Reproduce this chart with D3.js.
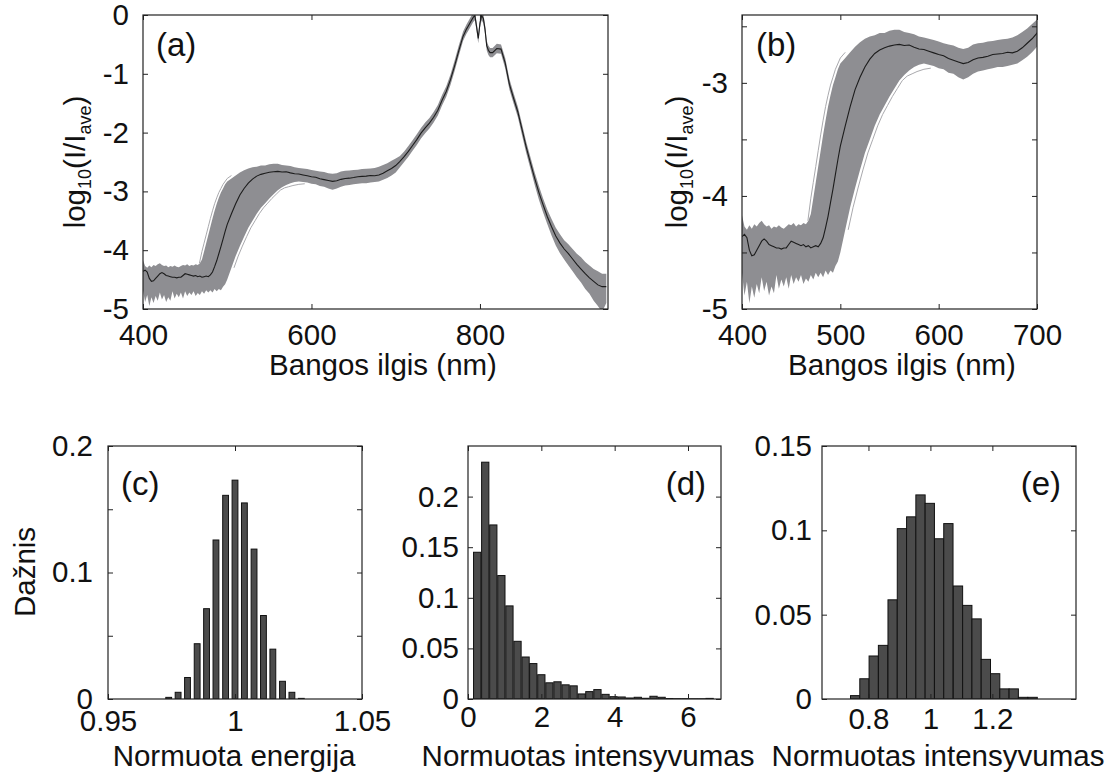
<!DOCTYPE html>
<html>
<head>
<script src="https://d3js.org/d3.v7.min.js"></script>
<style>
  body { margin: 0; background: #fff; }
  text { font-family: "Liberation Sans", Arial, sans-serif; }
</style>
</head>
<body>
<svg id="canvas" width="1120" height="776"></svg>
<script>
// ---- spectra (a), (b): wavelength, mean, band upper / lower edge ----
const wl = [400,402.5,405,407.5,410,412.5,415,417.5,420,422.5,425,427.5,430,432.5,435,437.5,440,442.5,445,447.5,450,452.5,455,457.5,460,462.5,465,467.5,470,472.5,475,477.5,480,482.5,485,487.5,490,492.5,495,497.5,500,
  505,510,515,520,525,530,535,540,545,550,555,560,565,570,575,580,585,590,595,600,605,610,615,620,625,630,635,640,645,650,655,660,665,670,675,680,685,690,695,700,705,710,715,720,725,730,735,740,745,750,755,760,765,770,775,780,
  782,784,786,788,790,792,794,796,798,800,802,804,806,808,810,812,
  815,820,825,830,835,840,845,850,855,860,865,870,875,880,885,890,895,900,905,910,915,920,925,930,935,940,945,950];

const meanSpec = [-4.36,-4.34,-4.37,-4.48,-4.53,-4.52,-4.48,-4.44,-4.40,-4.38,-4.40,-4.43,-4.44,-4.45,-4.46,-4.46,-4.47,-4.46,-4.46,-4.43,-4.40,-4.41,-4.42,-4.43,-4.44,-4.43,-4.45,-4.44,-4.46,-4.45,-4.44,-4.45,-4.42,-4.37,-4.28,-4.18,-4.06,-3.94,-3.81,-3.68,-3.56,
  -3.38,-3.21,-3.06,-2.95,-2.86,-2.79,-2.74,-2.71,-2.69,-2.675,-2.665,-2.66,-2.67,-2.665,-2.685,-2.70,-2.705,-2.72,-2.735,-2.75,-2.76,-2.785,-2.80,-2.815,-2.83,-2.82,-2.795,-2.78,-2.775,-2.765,-2.75,-2.745,-2.74,-2.73,-2.735,-2.72,-2.69,-2.65,-2.61,-2.56,-2.49,-2.41,-2.32,-2.22,-2.12,-2.01,-1.92,-1.84,-1.74,-1.62,-1.45,-1.30,-1.10,-0.86,-0.60,-0.36,
  -0.30,-0.24,-0.19,-0.14,-0.09,-0.04,-0.01,-0.20,-0.40,-0.14,-0.01,-0.06,-0.24,-0.52,-0.60,-0.64,
  -0.64,-0.57,-0.58,-0.82,-1.18,-1.42,-1.65,-1.95,-2.25,-2.52,-2.78,-3.02,-3.23,-3.43,-3.60,-3.76,-3.88,-3.98,-4.06,-4.15,-4.24,-4.32,-4.40,-4.47,-4.53,-4.59,-4.62,-4.62];

const hiSpec = [-4.17,-4.27,-4.30,-4.26,-4.29,-4.25,-4.27,-4.24,-4.22,-4.25,-4.27,-4.26,-4.29,-4.27,-4.28,-4.26,-4.28,-4.29,-4.27,-4.25,-4.26,-4.24,-4.27,-4.25,-4.26,-4.24,-4.25,-4.22,-4.16,-4.02,-3.88,-3.74,-3.60,-3.46,-3.33,-3.21,-3.11,-3.02,-2.95,-2.88,-2.83,
  -2.78,-2.73,-2.68,-2.64,-2.61,-2.59,-2.58,-2.56,-2.56,-2.54,-2.53,-2.53,-2.55,-2.56,-2.57,-2.59,-2.60,-2.61,-2.62,-2.635,-2.65,-2.66,-2.67,-2.69,-2.70,-2.69,-2.66,-2.65,-2.645,-2.635,-2.63,-2.62,-2.615,-2.61,-2.60,-2.58,-2.55,-2.52,-2.48,-2.44,-2.40,-2.32,-2.23,-2.13,-2.03,-1.92,-1.83,-1.75,-1.65,-1.53,-1.36,-1.21,-1.01,-0.77,-0.51,-0.28,
  -0.22,-0.16,-0.11,-0.06,-0.01,0.03,0.05,-0.12,-0.32,-0.06,0.05,0.02,-0.16,-0.44,-0.52,-0.56,
  -0.56,-0.49,-0.50,-0.73,-1.09,-1.33,-1.56,-1.86,-2.16,-2.42,-2.68,-2.91,-3.12,-3.31,-3.47,-3.62,-3.73,-3.83,-3.90,-3.98,-4.06,-4.12,-4.20,-4.26,-4.32,-4.36,-4.40,-4.40];

const loSpec = [-4.68,-4.88,-4.76,-4.95,-4.80,-4.90,-4.78,-4.86,-4.72,-4.84,-4.76,-4.88,-4.80,-4.86,-4.70,-4.82,-4.74,-4.80,-4.72,-4.82,-4.70,-4.78,-4.72,-4.76,-4.70,-4.78,-4.73,-4.76,-4.70,-4.74,-4.68,-4.72,-4.68,-4.72,-4.66,-4.70,-4.66,-4.68,-4.62,-4.58,-4.50,
  -4.30,-4.10,-3.93,-3.77,-3.62,-3.50,-3.38,-3.28,-3.20,-3.12,-3.05,-2.98,-2.93,-2.89,-2.86,-2.84,-2.83,-2.84,-2.85,-2.87,-2.88,-2.91,-2.92,-2.95,-2.97,-2.95,-2.92,-2.90,-2.89,-2.88,-2.87,-2.86,-2.86,-2.85,-2.84,-2.83,-2.80,-2.77,-2.73,-2.68,-2.59,-2.50,-2.41,-2.31,-2.21,-2.10,-2.01,-1.93,-1.83,-1.71,-1.54,-1.39,-1.19,-0.95,-0.69,-0.44,
  -0.38,-0.32,-0.27,-0.22,-0.17,-0.12,-0.09,-0.28,-0.48,-0.22,-0.09,-0.14,-0.32,-0.60,-0.68,-0.72,
  -0.72,-0.65,-0.66,-0.91,-1.27,-1.51,-1.74,-2.05,-2.35,-2.62,-2.89,-3.14,-3.36,-3.56,-3.75,-3.92,-4.05,-4.16,-4.26,-4.36,-4.46,-4.55,-4.66,-4.74,-4.86,-4.95,-5.05,-4.90];

// extreme single spectra just outside the band on the rising edge
const outerHiWl  = [467,470,472.5,475,477.5,480,482.5,485,487.5,490,492.5,495,500,505];
const outerHiVal = [-4.22,-4.02,-3.88,-3.74,-3.60,-3.46,-3.33,-3.21,-3.11,-3.02,-2.95,-2.88,-2.78,-2.73];
const outerLoWl  = [508,513,518,523,528,533,538,543,548,553,558,563,568,573,578,585,592];
const outerLoVal = [-4.30,-4.10,-3.93,-3.77,-3.62,-3.50,-3.38,-3.28,-3.20,-3.12,-3.05,-2.98,-2.94,-2.92,-2.90,-2.88,-2.87];

// ---- histograms (c), (d), (e): bin centers and frequencies ----
const energyBins = [0.9739,0.9776,0.9813,0.9851,0.9888,0.9925,0.9963,1.0000,1.0037,1.0075,1.0112,1.0149,1.0187,1.0224,1.0261];
const energyFreq = [0.0013,0.0053,0.017,0.0437,0.0714,0.1257,0.161,0.173,0.155,0.1185,0.066,0.0394,0.014,0.0053,0.0005];

const intensBins = [0.25,0.47,0.69,0.91,1.13,1.35,1.57,1.78,2.00,2.22,2.44,2.66,2.88,3.10,3.31,3.53,3.75,3.97,4.19,4.41,4.63,4.84,5.06,5.28,5.50,5.72,5.94,6.16,6.38,6.59];
const intensFreq = [0.145,0.234,0.172,0.122,0.092,0.057,0.0415,0.035,0.024,0.016,0.017,0.014,0.013,0.005,0.0073,0.0093,0.0046,0.0023,0.002,0.001,0.0017,0.0007,0.0027,0.0017,0.0005,0.0003,0.0003,0.0002,0.0002,0.0006];

const intens2Bins = [0.757,0.787,0.817,0.847,0.878,0.908,0.938,0.968,0.998,1.028,1.058,1.089,1.119,1.149,1.179,1.209,1.239,1.269,1.299,1.330];
const intens2Freq = [0.002,0.012,0.0255,0.0318,0.0588,0.101,0.108,0.121,0.116,0.095,0.104,0.067,0.0555,0.0475,0.0235,0.015,0.006,0.006,0.001,0.001];

const svg = d3.select("#canvas");
const FONT = 29.5;

// axes box with inward ticks on all four sides, MATLAB style
function makePanel(p) {
  const x = d3.scaleLinear().domain(p.xDomain).range([p.left, p.right]);
  const y = d3.scaleLinear().domain(p.yDomain).range([p.bottom, p.top]);
  const g = svg.append("g");

  svg.append("clipPath").attr("id", "clip-" + p.id)
    .append("rect")
    .attr("x", p.left).attr("y", p.top)
    .attr("width", p.right - p.left).attr("height", p.bottom - p.top);
  const plot = g.append("g").attr("clip-path", `url(#clip-${p.id})`);

  const fmt = d => String(d);
  const yFmt = p.yLabelOk ? (d => p.yLabelOk(d) ? String(d) : "") : fmt;

  const axes = [
    g.append("g").attr("transform", `translate(0,${p.bottom})`)
      .call(d3.axisBottom(x).tickValues(p.xTicks).tickSize(-5).tickSizeOuter(0).tickPadding(p.xPad).tickFormat(fmt)),
    g.append("g").attr("transform", `translate(0,${p.top})`)
      .call(d3.axisTop(x).tickValues(p.xTicks).tickSize(-5).tickSizeOuter(0).tickFormat(() => "")),
    g.append("g").attr("transform", `translate(${p.left},0)`)
      .call(d3.axisLeft(y).tickValues(p.yTicks).tickSize(-5).tickSizeOuter(0).tickPadding(p.yPad).tickFormat(yFmt)),
    g.append("g").attr("transform", `translate(${p.right},0)`)
      .call(d3.axisRight(y).tickValues(p.yTicks).tickSize(-5).tickSizeOuter(0).tickFormat(() => ""))
  ];
  axes.forEach(a => {
    a.select(".domain").remove();
    a.attr("font-size", FONT).attr("font-family", "Liberation Sans, Arial, sans-serif").attr("color", "#111");
    a.selectAll(".tick line").attr("stroke", "#222");
  });

  g.append("rect")
    .attr("x", p.left).attr("y", p.top)
    .attr("width", p.right - p.left).attr("height", p.bottom - p.top)
    .attr("fill", "none").attr("stroke", "#222").attr("stroke-width", 1.2);

  return { g, plot, x, y };
}

function drawSpectrum(P) {
  const band = d3.area()
    .x((d, i) => P.x(wl[i]))
    .y0((d, i) => P.y(loSpec[i]))
    .y1((d, i) => P.y(hiSpec[i]));
  P.plot.append("path").datum(wl).attr("d", band).attr("fill", "#8e8e92");

  const outer = d3.line().x(d => P.x(d[0])).y(d => P.y(d[1]));
  P.plot.append("path").datum(outerHiWl.map((w, i) => [w, outerHiVal[i]]))
    .attr("d", outer).attr("fill", "none").attr("stroke", "#a9a9ad").attr("stroke-width", 1);
  P.plot.append("path").datum(outerLoWl.map((w, i) => [w, outerLoVal[i]]))
    .attr("d", outer).attr("fill", "none").attr("stroke", "#a9a9ad").attr("stroke-width", 1);

  const line = d3.line().x((d, i) => P.x(wl[i])).y(d => P.y(d));
  P.plot.append("path").datum(meanSpec).attr("d", line)
    .attr("fill", "none").attr("stroke", "#1c1c1c").attr("stroke-width", 1.1);
}

function drawBars(P, centers, freq, ratio) {
  const w = (centers[1] - centers[0]) * ratio;
  P.plot.selectAll("rect.bar").data(centers).join("rect")
    .attr("class", "bar")
    .attr("x", d => P.x(d - w / 2))
    .attr("width", d => P.x(d + w / 2) - P.x(d - w / 2))
    .attr("y", (d, i) => P.y(freq[i]))
    .attr("height", (d, i) => P.y(0) - P.y(freq[i]))
    .attr("fill", "#4b4b4b").attr("stroke", "#111").attr("stroke-width", 1);
}

function tag(txt, x, y, anchor) {
  svg.append("text").attr("x", x).attr("y", y).attr("text-anchor", anchor || "start")
    .attr("font-size", 33).attr("fill", "#111").text(txt);
}

function xLabel(txt, x, y) {
  svg.append("text").attr("x", x).attr("y", y).attr("text-anchor", "middle")
    .attr("font-size", FONT).attr("fill", "#111").text(txt);
}

function logLabel(x, y) {
  const t = svg.append("text").attr("transform", `translate(${x},${y}) rotate(-90)`)
    .attr("text-anchor", "middle").attr("font-size", FONT).attr("fill", "#111");
  t.append("tspan").text("log");
  t.append("tspan").attr("font-size", 18).attr("dy", 6).text("10");
  t.append("tspan").attr("dy", -6).text("(I/I");
  t.append("tspan").attr("font-size", 18).attr("dy", 6).text("ave");
  t.append("tspan").attr("dy", -6).text(")");
}

// (a)
const A = makePanel({ id: "a", left: 143, right: 608, top: 15, bottom: 309,
  xDomain: [400, 952], yDomain: [-5, 0], xTicks: [400, 600, 800], yTicks: [-5, -4, -3, -2, -1, 0],
  xPad: 15, yPad: 14 });
drawSpectrum(A);
tag("(a)", 156, 56);
logLabel(85, 162);
xLabel("Bangos ilgis (nm)", 383, 375);

// (b)
const B = makePanel({ id: "b", left: 742, right: 1037, top: 15, bottom: 309,
  xDomain: [400, 700], yDomain: [-5, -2.4], xTicks: [400, 500, 600, 700],
  yTicks: [-5, -4.5, -4, -3.5, -3, -2.5], yLabelOk: d => Number.isInteger(d),
  xPad: 15, yPad: 14 });
drawSpectrum(B);
tag("(b)", 756, 56);
logLabel(687, 162);
xLabel("Bangos ilgis (nm)", 902, 375);

// (c)
const C = makePanel({ id: "c", left: 108, right: 362, top: 446, bottom: 699,
  xDomain: [0.95, 1.05], yDomain: [0, 0.2], xTicks: [0.95, 1, 1.05],
  yTicks: [0, 0.05, 0.1, 0.15, 0.2], yLabelOk: d => d === 0 || d === 0.1 || d === 0.2,
  xPad: 11, yPad: 15 });
drawBars(C, energyBins, energyFreq, 0.62);
tag("(c)", 121, 495);
svg.append("text").attr("transform", "translate(35,572) rotate(-90)")
  .attr("text-anchor", "middle").attr("font-size", FONT).attr("fill", "#111").text("Dažnis");
xLabel("Normuota energija", 234, 766);

// (d)
const D = makePanel({ id: "d", left: 468, right: 721, top: 446, bottom: 699,
  xDomain: [0, 6.9], yDomain: [0, 0.25], xTicks: [0, 2, 4, 6],
  yTicks: [0, 0.05, 0.1, 0.15, 0.2],
  xPad: 7, yPad: 9 });
drawBars(D, intensBins, intensFreq, 0.9);
tag("(d)", 706, 495, "end");
xLabel("Normuotas intensyvumas", 588, 766);

// (e)
const E = makePanel({ id: "e", left: 822, right: 1076, top: 446, bottom: 699,
  xDomain: [0.65, 1.47], yDomain: [0, 0.15], xTicks: [0.8, 1, 1.2],
  yTicks: [0, 0.05, 0.1, 0.15],
  xPad: 9, yPad: 10 });
drawBars(E, intens2Bins, intens2Freq, 1.0);
tag("(e)", 1061, 495, "end");
xLabel("Normuotas intensyvumas", 938, 766);
</script>
</body>
</html>
